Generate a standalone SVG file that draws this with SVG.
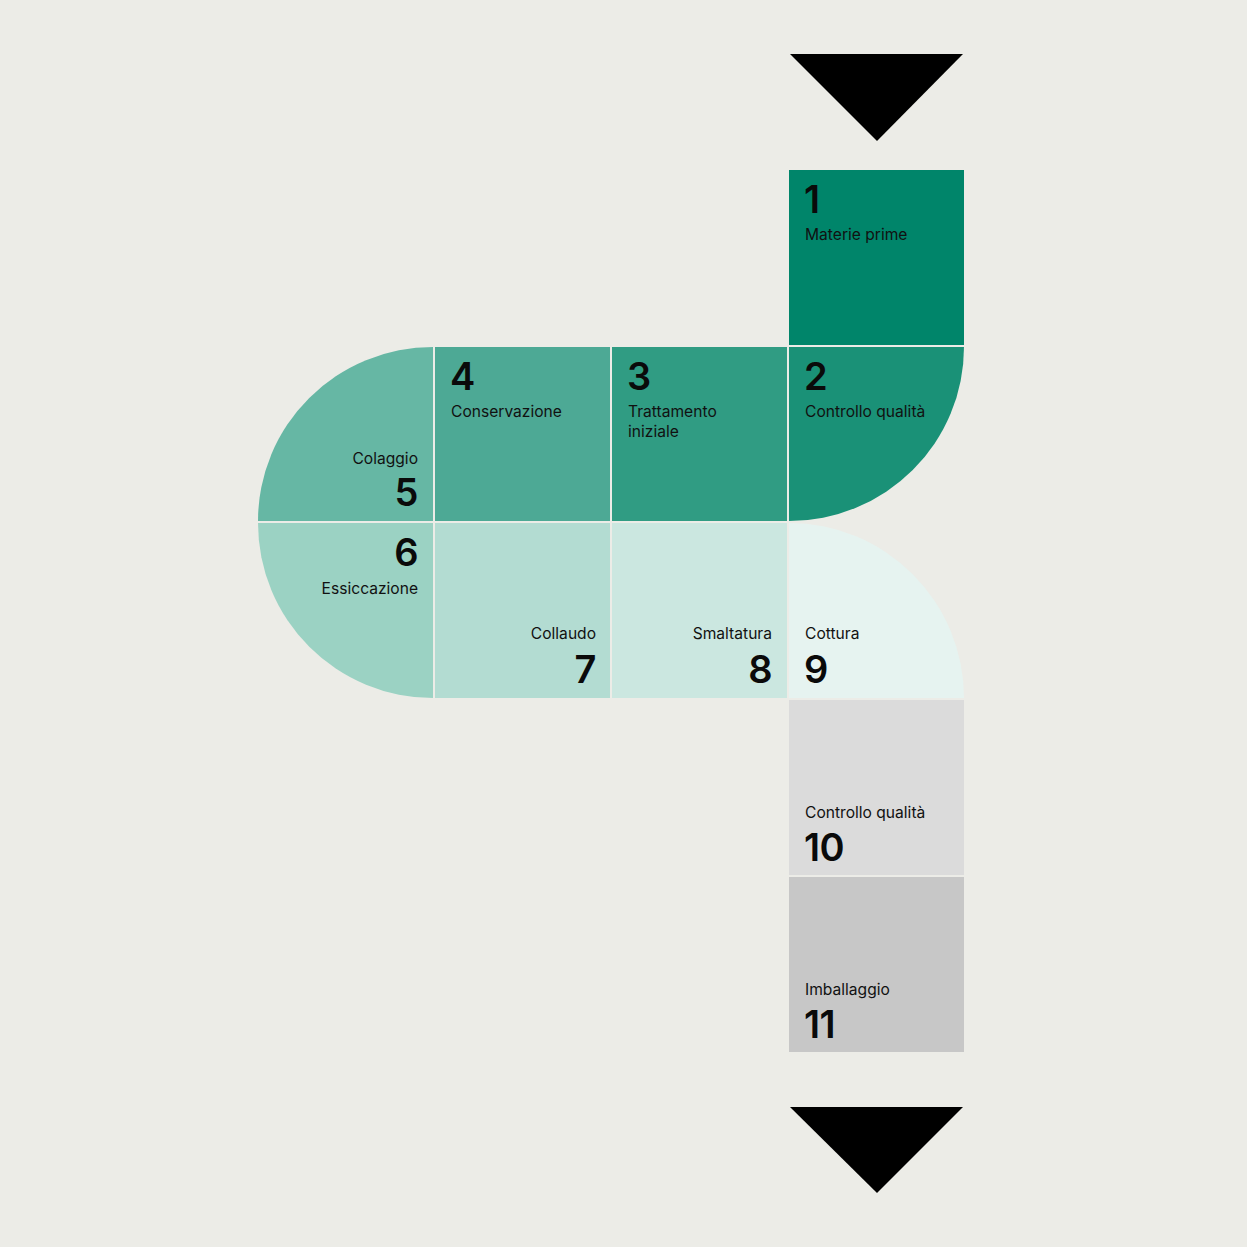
<svg xmlns="http://www.w3.org/2000/svg" width="1247" height="1247" viewBox="0 0 1247 1247">
<style>
.num{font-family:Inter,"Liberation Sans",sans-serif;font-size:38px;font-weight:600;fill:#0a0a0a;letter-spacing:-0.5px}
.lbl{font-family:Inter,"Liberation Sans",sans-serif;font-size:15.6px;font-weight:400;fill:#111}
.r{text-anchor:end}
.arrow{fill:#000}
</style>
<rect width="1247" height="1247" fill="#ecece7"/>
<g id="connectors">
<polygon class="arrow" points="790,54 963,54 877,141"/>
<polygon class="arrow" points="790,1107 963,1107 877,1193"/>
</g>
<g id="n1">
<rect x="789" y="170" width="175" height="175" fill="#00856a"/>
<text class="num" x="804" y="213">1</text>
<text class="lbl" x="805" y="240">Materie prime</text>
</g>
<g id="n2">
<path d="M789,347 H964 A175,174 0 0 1 789,521 Z" fill="#1a9177"/>
<text class="num" x="804" y="390">2</text>
<text class="lbl" x="805" y="417">Controllo qualità</text>
</g>
<g id="n3">
<rect x="612" y="347" width="175" height="174" fill="#309c83"/>
<text class="num" x="627" y="390">3</text>
<text class="lbl" x="628" y="417">Trattamento</text>
<text class="lbl" x="628" y="437">iniziale</text>
</g>
<g id="n4">
<rect x="435" y="347" width="175" height="174" fill="#4da995"/>
<text class="num" x="450" y="390">4</text>
<text class="lbl" x="451" y="417">Conservazione</text>
</g>
<g id="n5">
<path d="M433,347 V521 H258 A175,174 0 0 1 433,347 Z" fill="#66b7a4"/>
<text class="lbl r" x="418" y="464">Colaggio</text>
<text class="num r" x="418" y="506">5</text>
</g>
<g id="n6">
<path d="M258,523 H433 V698 A175,175 0 0 1 258,523 Z" fill="#9bd2c3"/>
<text class="num r" x="418" y="566">6</text>
<text class="lbl r" x="418" y="594">Essiccazione</text>
</g>
<g id="n7">
<rect x="435" y="523" width="175" height="175" fill="#b3dcd2"/>
<text class="lbl r" x="596" y="639">Collaudo</text>
<text class="num r" x="596" y="683">7</text>
</g>
<g id="n8">
<rect x="612" y="523" width="175" height="175" fill="#cbe7e0"/>
<text class="lbl r" x="772" y="639">Smaltatura</text>
<text class="num r" x="772" y="683">8</text>
</g>
<g id="n9">
<path d="M789,523 A175,175 0 0 1 964,698 H789 Z" fill="#e6f3f0"/>
<text class="lbl" x="805" y="639">Cottura</text>
<text class="num" x="804" y="683">9</text>
</g>
<g id="n10">
<rect x="789" y="700" width="175" height="175" fill="#dbdbdb"/>
<text class="lbl" x="805" y="818">Controllo qualità</text>
<text class="num" x="804" y="861">10</text>
</g>
<g id="n11">
<rect x="789" y="877" width="175" height="175" fill="#c7c7c7"/>
<text class="lbl" x="805" y="995">Imballaggio</text>
<text class="num" x="804" y="1038">11</text>
</g>
</svg>
